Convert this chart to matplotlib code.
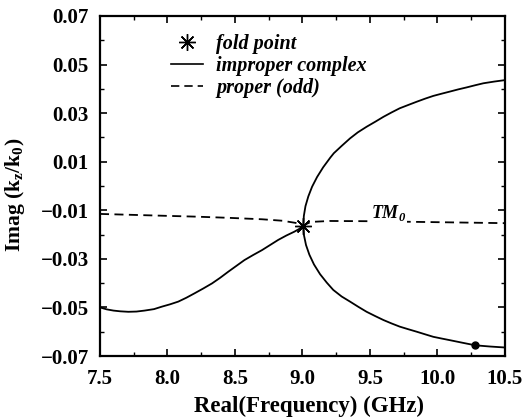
import matplotlib
matplotlib.use("Agg")
import matplotlib.pyplot as plt
from matplotlib.lines import Line2D
from matplotlib.ticker import MultipleLocator, FormatStrFormatter, FuncFormatter

plt.rcParams['font.family'] = ['Liberation Serif', 'DejaVu Serif']
plt.rcParams['font.weight'] = 'bold'

# Proper (odd) mode - dashed
proper_f = [7.5, 7.75, 8.0, 8.2, 8.45, 8.7, 8.85, 8.95, 9.006, 9.06, 9.2, 9.5, 10.0, 10.5]
proper_y = [-0.0115, -0.0119, -0.0123, -0.0126, -0.0131, -0.0137, -0.0143, -0.0152, -0.0163, -0.0148, -0.0144, -0.0145, -0.0149, -0.0153]

# Improper complex - lower left branch
imp_left_f = [7.5, 7.55, 7.6, 7.65, 7.71, 7.77, 7.83, 7.9, 7.957, 8.02, 8.08, 8.14, 8.2, 8.265,
              8.33, 8.39, 8.45, 8.51, 8.57, 8.635, 8.7, 8.76, 8.82, 8.88, 8.94, 8.975, 9.006]
imp_left_y = [-0.0500, -0.0508, -0.0513, -0.0516, -0.0518, -0.0517, -0.0513, -0.0507, -0.0497, -0.0487,
              -0.0476, -0.0460, -0.0442, -0.0422, -0.0401, -0.0378, -0.0353, -0.0329, -0.0305, -0.0284,
              -0.0264, -0.0243, -0.0222, -0.0204, -0.0188, -0.0177, -0.0163]

# Improper complex - upper right branch
imp_up_f = [9.006, 9.010, 9.022, 9.043, 9.071, 9.108, 9.153, 9.206, 9.232, 9.29, 9.352, 9.41, 9.475,
            9.54, 9.60, 9.66, 9.72, 9.785, 9.846, 9.91, 9.969, 10.03, 10.093, 10.155, 10.216, 10.28, 10.34, 10.42, 10.5]
imp_up_y = [-0.0163, -0.0123, -0.0083, -0.0043, -0.0003, 0.0037, 0.0077, 0.0117, 0.0135, 0.0165, 0.0196,
            0.0221, 0.0244, 0.0265, 0.0285, 0.0303, 0.0320, 0.0334, 0.0347, 0.0360, 0.0371, 0.0380, 0.0389,
            0.0398, 0.0406, 0.0415, 0.0423, 0.0430, 0.0436]

# Improper complex - lower right branch
imp_dn_f = [9.006, 9.011, 9.026, 9.051, 9.085, 9.130, 9.18, 9.228, 9.29, 9.352, 9.415, 9.475, 9.54, 9.60,
            9.66, 9.72, 9.785, 9.846, 9.91, 9.969, 10.03, 10.093, 10.19, 10.28, 10.39, 10.5]
imp_dn_y = [-0.0163, -0.0203, -0.0243, -0.0283, -0.0323, -0.0363, -0.0398, -0.0428, -0.0455, -0.0476,
            -0.0498, -0.0518, -0.0536, -0.0552, -0.0566, -0.0579, -0.0590, -0.0600, -0.0611, -0.0621,
            -0.0628, -0.0635, -0.0646, -0.0656, -0.0661, -0.0665]

fold_f, fold_y = [9.006], [-0.0163]
dot_f, dot_y = [10.28], [-0.0656]

xticks = [7.5, 8.0, 8.5, 9.0, 9.5, 10.0, 10.5]
yticks = [0.07, 0.05, 0.03, 0.01, -0.01, -0.03, -0.05, -0.07]

fig = plt.figure(figsize=(5.30, 4.19), dpi=100)
ax = fig.add_axes([100/530, 1-356/419, 405/530, 340/419])

lw = 1.3
ax.plot(proper_f, proper_y, color='black', lw=lw, ls=(0, (5, 3)))
ax.plot(imp_left_f, imp_left_y, color='black', lw=lw)
ax.plot(imp_up_f, imp_up_y, color='black', lw=lw)
ax.plot(imp_dn_f, imp_dn_y, color='black', lw=lw)
ax.plot(fold_f, fold_y, ls='none', marker=(8, 2, 0), ms=12, mec='black', mew=1.0)
ax.plot(dot_f, dot_y, ls='none', marker='o', ms=5, color='black')

ax.text(9.51, -0.0133, r'TM$_\mathregular{0}$', fontsize=13, fontstyle='italic',
        fontweight='bold', ha='left', va='baseline',
        bbox=dict(facecolor='white', edgecolor='none', pad=0.5))

ax.set_xlim(7.5, 10.5)
ax.set_ylim(-0.07, 0.07)
ax.set_xticks(xticks)
ax.set_yticks(yticks)
ax.xaxis.set_major_formatter(FormatStrFormatter('%.1f'))
ax.yaxis.set_major_formatter(FuncFormatter(lambda v, p: ('%.2f' % v).replace('-', '\u2212')))
ax.xaxis.set_minor_locator(MultipleLocator(0.25))
ax.yaxis.set_minor_locator(MultipleLocator(0.01))
ax.tick_params(which='both', direction='in', top=True, right=True)
ax.tick_params(which='major', length=5, width=1.2, labelsize=15)
ax.tick_params(axis='x', which='major', pad=9)
ax.tick_params(axis='y', which='major', pad=8)
ax.tick_params(which='minor', length=3, width=1.0)
for lab in ax.get_xticklabels() + ax.get_yticklabels():
    lab.set_fontweight('bold')
for s in ax.spines.values():
    s.set_linewidth(1.6)

ax.set_xlabel('Real(Frequency) (GHz)', fontsize=16.5, fontweight='bold')
ax.xaxis.set_label_coords(0.516, -0.118)
ax.set_ylabel(r'Imag (k$_\mathregular{z}$/k$_\mathregular{0}$)', fontsize=15.5, fontweight='bold')
ax.yaxis.set_label_coords(-0.18, 0.474)

handles = [
    Line2D([], [], ls='none', marker=(8, 2, 0), ms=12, mec='black', mew=1.0),
    Line2D([], [], color='black', lw=1.2),
    Line2D([], [], color='black', lw=1.2, ls=(0, (5, 3))),
]
labels = ['fold point', 'improper complex', 'proper (odd)']
ax.legend(handles, labels, loc='upper left', bbox_to_anchor=(0.135, 0.995), frameon=False,
          prop=dict(family='Liberation Serif', style='italic', weight='bold', size=14.5),
          handlelength=1.6, handletextpad=0.65, labelspacing=0.1, borderpad=0.3)

fig.savefig('out.png', dpi=100)
